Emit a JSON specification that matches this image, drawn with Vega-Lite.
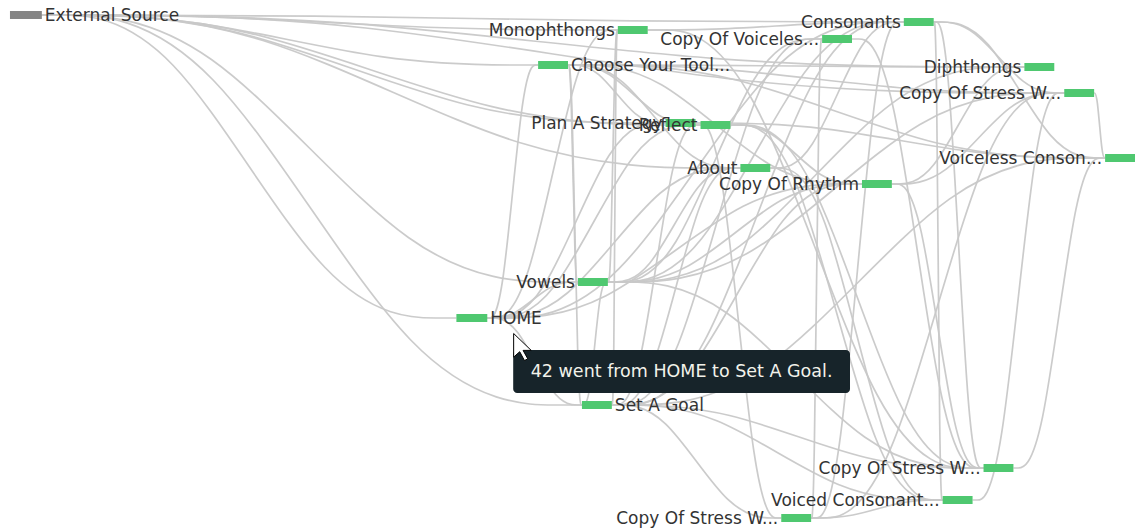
{
  "$schema": "https://vega.github.io/schema/vega-lite/v6.json",
  "autosize": {"type": "fit", "contains": "padding"},
  "width": 1139,
  "height": 531,
  "padding": 0,
  "background": "white",
  "config": {"view": {"stroke": null}},
  "datasets": {
    "nodes": [
      {"name": "External Source", "xl": 10, "xr": 42, "y": 15, "side": "r", "kind": "source"},
      {"name": "Monophthongs", "xl": 620, "xr": 650, "y": 30, "side": "l", "kind": "page"},
      {"name": "Copy Of Voiceles...", "xl": 825, "xr": 855, "y": 39, "side": "l", "kind": "page"},
      {"name": "Consonants", "xl": 907, "xr": 937, "y": 22, "side": "l", "kind": "page"},
      {"name": "Choose Your Tool...", "xl": 540, "xr": 570, "y": 65, "side": "r", "kind": "page"},
      {"name": "Diphthongs", "xl": 1028, "xr": 1058, "y": 67, "side": "l", "kind": "page"},
      {"name": "Copy Of Stress W...", "xl": 1068, "xr": 1098, "y": 93, "side": "l", "kind": "page"},
      {"name": "Plan A Strategy", "xl": 668, "xr": 698, "y": 123, "side": "l", "kind": "page"},
      {"name": "Reflect", "xl": 703, "xr": 733, "y": 125, "side": "l", "kind": "page"},
      {"name": "About", "xl": 743, "xr": 773, "y": 168, "side": "l", "kind": "page"},
      {"name": "Copy Of Rhythm", "xl": 865, "xr": 895, "y": 184, "side": "l", "kind": "page"},
      {"name": "Voiceless Conson...", "xl": 1109, "xr": 1139, "y": 158, "side": "l", "kind": "page"},
      {"name": "Vowels", "xl": 580, "xr": 610, "y": 282, "side": "l", "kind": "page"},
      {"name": "HOME", "xl": 458, "xr": 489, "y": 318, "side": "r", "kind": "page"},
      {"name": "Set A Goal", "xl": 584, "xr": 614, "y": 405, "side": "r", "kind": "page"},
      {"name": "Copy Of Stress W...", "xl": 987, "xr": 1017, "y": 468, "side": "l", "kind": "page"},
      {"name": "Voiced Consonant...", "xl": 946, "xr": 976, "y": 500, "side": "l", "kind": "page"},
      {"name": "Copy Of Stress W...", "xl": 784, "xr": 814, "y": 518, "side": "l", "kind": "page"}
    ],
    "links": [
      {"id": 1, "x": [42, 302, 648, 907], "y": [15, 15, 22, 22], "o": [0, 1, 2, 3]},
      {"id": 2, "x": [42, 215, 447, 620], "y": [15, 15, 30, 30], "o": [0, 1, 2, 3]},
      {"id": 3, "x": [42, 191, 391, 540], "y": [15, 15, 65, 65], "o": [0, 1, 2, 3]},
      {"id": 4, "x": [42, 230, 480, 668], "y": [15, 15, 123, 123], "o": [0, 1, 2, 3]},
      {"id": 5, "x": [42, 240, 505, 703], "y": [15, 15, 125, 125], "o": [0, 1, 2, 3]},
      {"id": 6, "x": [42, 252, 533, 743], "y": [15, 15, 168, 168], "o": [0, 1, 2, 3]},
      {"id": 7, "x": [42, 350, 760, 1068], "y": [15, 15, 93, 93], "o": [0, 1, 2, 3]},
      {"id": 8, "x": [42, 338, 732, 1028], "y": [15, 15, 67, 67], "o": [0, 1, 2, 3]},
      {"id": 9, "x": [42, 167, 333, 458], "y": [15, 15, 318, 318], "o": [0, 1, 2, 3]},
      {"id": 10, "x": [42, 203, 419, 580], "y": [15, 15, 282, 282], "o": [0, 1, 2, 3]},
      {"id": 11, "x": [42, 205, 421, 584], "y": [15, 15, 405, 405], "o": [0, 1, 2, 3]},
      {"id": 13, "x": [570, 610, 663, 703], "y": [65, 65, 125, 125], "o": [0, 1, 2, 3]},
      {"id": 14, "x": [570, 622, 691, 743], "y": [65, 65, 168, 168], "o": [0, 1, 2, 3]},
      {"id": 15, "x": [570, 659, 777, 865], "y": [65, 65, 184, 184], "o": [0, 1, 2, 3]},
      {"id": 16, "x": [570, 707, 891, 1028], "y": [65, 65, 67, 67], "o": [0, 1, 2, 3]},
      {"id": 17, "x": [570, 719, 919, 1068], "y": [65, 65, 93, 93], "o": [0, 1, 2, 3]},
      {"id": 18, "x": [570, 732, 947, 1109], "y": [65, 65, 158, 158], "o": [0, 1, 2, 3]},
      {"id": 19, "x": [570, 573, 577, 580], "y": [65, 65, 282, 282], "o": [0, 1, 2, 3]},
      {"id": 20, "x": [570, 574, 580, 584], "y": [65, 65, 405, 405], "o": [0, 1, 2, 3]},
      {"id": 21, "x": [570, 599, 639, 668], "y": [65, 65, 123, 123], "o": [0, 1, 2, 3]},
      {"id": 22, "x": [489, 518, 556, 584], "y": [318, 318, 405, 405], "o": [0, 1, 2, 3]},
      {"id": 23, "x": [489, 504, 525, 540], "y": [318, 318, 65, 65], "o": [0, 1, 2, 3]},
      {"id": 24, "x": [489, 516, 553, 580], "y": [318, 318, 282, 282], "o": [0, 1, 2, 3]},
      {"id": 25, "x": [489, 528, 581, 620], "y": [318, 318, 30, 30], "o": [0, 1, 2, 3]},
      {"id": 26, "x": [489, 543, 614, 668], "y": [318, 318, 123, 123], "o": [0, 1, 2, 3]},
      {"id": 27, "x": [489, 553, 639, 703], "y": [318, 318, 125, 125], "o": [0, 1, 2, 3]},
      {"id": 28, "x": [489, 565, 667, 743], "y": [318, 318, 168, 168], "o": [0, 1, 2, 3]},
      {"id": 29, "x": [489, 614, 782, 907], "y": [318, 318, 22, 22], "o": [0, 1, 2, 3]},
      {"id": 30, "x": [489, 602, 752, 865], "y": [318, 318, 184, 184], "o": [0, 1, 2, 3]},
      {"id": 31, "x": [610, 613, 617, 620], "y": [282, 282, 30, 30], "o": [0, 1, 2, 3]},
      {"id": 32, "x": [610, 675, 760, 825], "y": [282, 282, 39, 39], "o": [0, 1, 2, 3]},
      {"id": 33, "x": [610, 699, 818, 907], "y": [282, 282, 22, 22], "o": [0, 1, 2, 3]},
      {"id": 34, "x": [610, 735, 903, 1028], "y": [282, 282, 67, 67], "o": [0, 1, 2, 3]},
      {"id": 35, "x": [610, 747, 931, 1068], "y": [282, 282, 93, 93], "o": [0, 1, 2, 3]},
      {"id": 36, "x": [610, 687, 788, 865], "y": [282, 282, 184, 184], "o": [0, 1, 2, 3]},
      {"id": 37, "x": [610, 650, 703, 743], "y": [282, 282, 168, 168], "o": [0, 1, 2, 3]},
      {"id": 38, "x": [610, 602, 592, 584], "y": [282, 282, 405, 405], "o": [0, 1, 2, 3]},
      {"id": 39, "x": [610, 723, 874, 987], "y": [282, 282, 468, 468], "o": [0, 1, 2, 3]},
      {"id": 40, "x": [614, 665, 733, 784], "y": [405, 405, 518, 518], "o": [0, 1, 2, 3]},
      {"id": 41, "x": [614, 714, 846, 946], "y": [405, 405, 500, 500], "o": [0, 1, 2, 3]},
      {"id": 42, "x": [614, 726, 875, 987], "y": [405, 405, 468, 468], "o": [0, 1, 2, 3]},
      {"id": 43, "x": [614, 641, 676, 703], "y": [405, 405, 125, 125], "o": [0, 1, 2, 3]},
      {"id": 44, "x": [614, 653, 704, 743], "y": [405, 405, 168, 168], "o": [0, 1, 2, 3]},
      {"id": 45, "x": [614, 677, 762, 825], "y": [405, 405, 39, 39], "o": [0, 1, 2, 3]},
      {"id": 46, "x": [614, 702, 819, 907], "y": [405, 405, 22, 22], "o": [0, 1, 2, 3]},
      {"id": 47, "x": [614, 689, 790, 865], "y": [405, 405, 184, 184], "o": [0, 1, 2, 3]},
      {"id": 48, "x": [614, 763, 961, 1109], "y": [405, 405, 158, 158], "o": [0, 1, 2, 3]},
      {"id": 49, "x": [614, 616, 618, 620], "y": [405, 405, 30, 30], "o": [0, 1, 2, 3]},
      {"id": 51, "x": [650, 751, 886, 987], "y": [30, 30, 468, 468], "o": [0, 1, 2, 3]},
      {"id": 52, "x": [733, 809, 911, 987], "y": [125, 125, 468, 468], "o": [0, 1, 2, 3]},
      {"id": 53, "x": [733, 797, 882, 946], "y": [125, 125, 500, 500], "o": [0, 1, 2, 3]},
      {"id": 54, "x": [773, 825, 894, 946], "y": [168, 168, 500, 500], "o": [0, 1, 2, 3]},
      {"id": 55, "x": [698, 724, 758, 784], "y": [123, 123, 518, 518], "o": [0, 1, 2, 3]},
      {"id": 56, "x": [895, 923, 959, 987], "y": [184, 184, 468, 468], "o": [0, 1, 2, 3]},
      {"id": 57, "x": [814, 817, 822, 825], "y": [518, 518, 39, 39], "o": [0, 1, 2, 3]},
      {"id": 58, "x": [814, 842, 879, 907], "y": [518, 518, 22, 22], "o": [0, 1, 2, 3]},
      {"id": 59, "x": [814, 890, 992, 1068], "y": [518, 518, 93, 93], "o": [0, 1, 2, 3]},
      {"id": 60, "x": [814, 854, 906, 946], "y": [518, 518, 500, 500], "o": [0, 1, 2, 3]},
      {"id": 61, "x": [937, 940, 943, 946], "y": [22, 22, 500, 500], "o": [0, 1, 2, 3]},
      {"id": 62, "x": [937, 952, 972, 987], "y": [22, 22, 468, 468], "o": [0, 1, 2, 3]},
      {"id": 63, "x": [937, 989, 1057, 1109], "y": [22, 22, 158, 158], "o": [0, 1, 2, 3]},
      {"id": 64, "x": [937, 976, 1029, 1068], "y": [22, 22, 93, 93], "o": [0, 1, 2, 3]},
      {"id": 65, "x": [1098, 1101, 1106, 1109], "y": [93, 93, 158, 158], "o": [0, 1, 2, 3]},
      {"id": 66, "x": [1017, 1045, 1081, 1109], "y": [468, 468, 158, 158], "o": [0, 1, 2, 3]},
      {"id": 67, "x": [976, 1004, 1040, 1068], "y": [500, 500, 93, 93], "o": [0, 1, 2, 3]},
      {"id": 68, "x": [895, 947, 1016, 1068], "y": [184, 184, 93, 93], "o": [0, 1, 2, 3]},
      {"id": 69, "x": [895, 935, 988, 1028], "y": [184, 184, 67, 67], "o": [0, 1, 2, 3]},
      {"id": 70, "x": [698, 821, 986, 1109], "y": [123, 123, 158, 158], "o": [0, 1, 2, 3]},
      {"id": 71, "x": [733, 773, 825, 865], "y": [125, 125, 184, 184], "o": [0, 1, 2, 3]},
      {"id": 72, "x": [773, 813, 867, 907], "y": [168, 168, 22, 22], "o": [0, 1, 2, 3]},
      {"id": 73, "x": [855, 895, 947, 987], "y": [39, 39, 468, 468], "o": [0, 1, 2, 3]},
      {"id": 74, "x": [650, 727, 830, 907], "y": [30, 30, 22, 22], "o": [0, 1, 2, 3]}
    ],
    "tip": [
      {"x": 515, "x2": 853, "y": 350, "y2": 393, "cx": 684, "cy": 372, "label": "42 went from HOME to Set A Goal."}
    ],
    "cursor": [
      {"x": 529, "y": 347}
    ]
  },
  "layer": [
    {
      "data": {"name": "links"},
      "transform": [{"flatten": ["x", "y", "o"]}],
      "mark": {"type": "line", "interpolate": "basis", "stroke": "#c8c8c8", "strokeWidth": 1.7, "opacity": 0.95},
      "encoding": {
        "x": {"field": "x", "type": "quantitative", "scale": {"domain": [0, 1139], "nice": false, "zero": false}, "axis": null},
        "y": {"field": "y", "type": "quantitative", "scale": {"domain": [0, 531], "nice": false, "zero": false, "reverse": true}, "axis": null},
        "detail": {"field": "id", "type": "nominal"},
        "order": {"field": "o", "type": "quantitative"}
      }
    },
    {
      "data": {"name": "nodes"},
      "mark": {"type": "rule", "strokeWidth": 8, "strokeCap": "butt"},
      "encoding": {
        "x": {"field": "xl", "type": "quantitative"},
        "x2": {"field": "xr"},
        "y": {"field": "y", "type": "quantitative"},
        "color": {"field": "kind", "type": "nominal", "scale": {"domain": ["source", "page"], "range": ["#858585", "#4fc870"]}, "legend": null}
      }
    },
    {
      "data": {"name": "nodes"},
      "transform": [{"filter": "datum.side === 'l'"}],
      "mark": {"type": "text", "align": "right", "baseline": "middle", "dx": -3, "dy": 1, "font": "DejaVu Sans", "fontSize": 17, "fill": "#333333"},
      "encoding": {
        "x": {"field": "xl", "type": "quantitative"},
        "y": {"field": "y", "type": "quantitative"},
        "text": {"field": "name"}
      }
    },
    {
      "data": {"name": "nodes"},
      "transform": [{"filter": "datum.side === 'r'"}],
      "mark": {"type": "text", "align": "left", "baseline": "middle", "dx": 3, "dy": 1, "font": "DejaVu Sans", "fontSize": 17, "fill": "#333333"},
      "encoding": {
        "x": {"field": "xr", "type": "quantitative"},
        "y": {"field": "y", "type": "quantitative"},
        "text": {"field": "name"}
      }
    },
    {
      "data": {"name": "tip"},
      "mark": {"type": "rect", "fill": "#17242a", "cornerRadius": 4},
      "encoding": {
        "x": {"field": "x", "type": "quantitative"},
        "x2": {"field": "x2"},
        "y": {"field": "y", "type": "quantitative"},
        "y2": {"field": "y2"}
      }
    },
    {
      "data": {"name": "tip"},
      "mark": {"type": "text", "align": "center", "baseline": "middle", "font": "DejaVu Sans", "fontSize": 17.5, "fill": "#f2f2ea"},
      "encoding": {
        "x": {"field": "cx", "type": "quantitative"},
        "y": {"field": "cy", "type": "quantitative"},
        "text": {"field": "label"}
      }
    },
    {
      "data": {"name": "cursor"},
      "mark": {"type": "point", "filled": true, "fill": "white", "stroke": "black", "strokeWidth": 1, "opacity": 1, "size": 729, "shape": "M-1,-1 L-1,0.75 L-0.55,0.35 L-0.2,1 L0.05,0.88 L-0.3,0.25 L0.3,0.25 Z"},
      "encoding": {
        "x": {"field": "x", "type": "quantitative"},
        "y": {"field": "y", "type": "quantitative"}
      }
    }
  ]
}
